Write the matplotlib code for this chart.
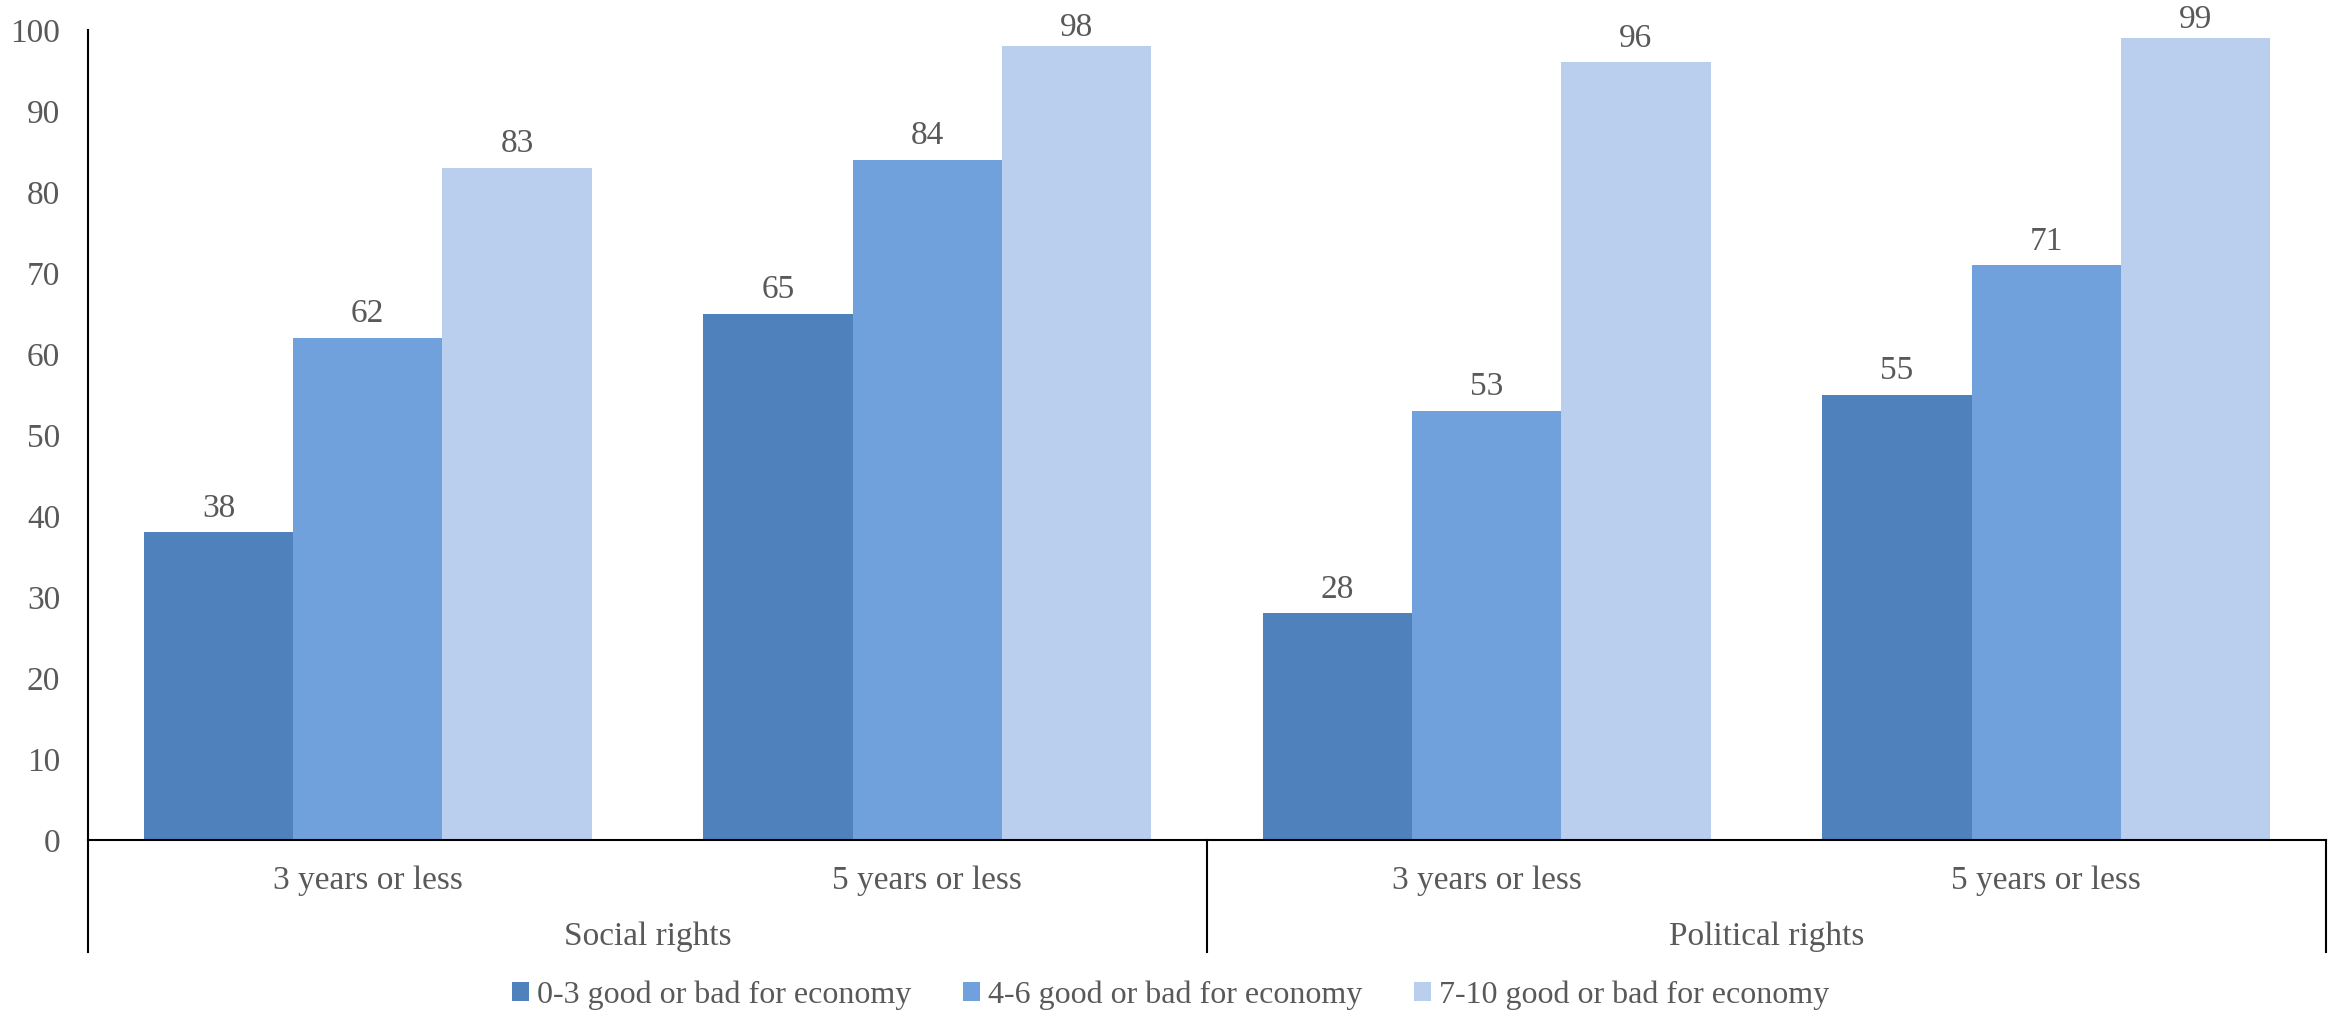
import numpy as np
import matplotlib.pyplot as plt
import matplotlib.transforms as mtrans

plt.rcParams['font.family'] = ['Liberation Serif', 'DejaVu Serif']

groups = ['Social rights', 'Political rights']
periods = ['3 years or less', '5 years or less', '3 years or less', '5 years or less']
series = ['0-3 good or bad for economy', '4-6 good or bad for economy', '7-10 good or bad for economy']
low = [38, 65, 28, 55]
mid = [62, 84, 53, 71]
high = [83, 98, 96, 99]
colors = ['#4f81bd', '#70a1dc', '#b9cfed']
txt_color = '#595959'
fs = 24

fig = plt.figure(figsize=[23.41, 10.11], dpi=100)
ax = fig.add_axes([0.0376, 0.1691, 0.9560, 0.8012])

x = np.arange(len(periods))
w = 0.8 / 3
for i, (vals, c, name) in enumerate(zip([low, mid, high], colors, series)):
    pos = x + (i - 1) * w
    bars = ax.bar(pos, vals, w, color=c, label=name, linewidth=0)
    for p, v in zip(pos, vals):
        # keep labels of the tallest bars inside the figure
        off = 6 if v < 97 else 2
        ax.annotate(str(v), (p, v), xytext=(0, off), textcoords='offset points',
                    ha='center', va='bottom', fontsize=fs, color=txt_color)

ax.set_xlim(-0.5, len(periods) - 0.5)
ax.set_ylim(0, 100)
ax.set_yticks(np.arange(0, 101, 10))
ax.tick_params(axis='y', length=0, pad=20, labelsize=fs, labelcolor=txt_color)
ax.set_xticks([])
for s in ['top', 'right']:
    ax.spines[s].set_visible(False)
ax.spines['left'].set_linewidth(1.5)
ax.spines['bottom'].set_linewidth(1.5)
ax.spines['left'].set_color('black')

# two-level category axis below the bars
tr = mtrans.blended_transform_factory(ax.transData, ax.transAxes)
for xi, lab in zip(x, periods):
    ax.text(xi, -0.05, lab, transform=tr, ha='center', va='center',
            fontsize=fs, color=txt_color)
for gi, g in enumerate(groups):
    ax.text(gi * 2 + 0.5, -0.12, g, transform=tr, ha='center', va='center',
            fontsize=fs, color=txt_color)
for xs in [-0.5, 1.5, 3.5]:
    ax.plot([xs, xs], [0, -0.138], transform=tr, color='black', lw=1.5, clip_on=False)

fig.legend(loc='center', bbox_to_anchor=(0.5, 0.016), ncol=3, frameon=False,
           fontsize=23, labelcolor=txt_color, handlelength=0.55, handleheight=0.55,
           handletextpad=0.25, columnspacing=1.6)

fig.savefig('out.png', dpi=100)
